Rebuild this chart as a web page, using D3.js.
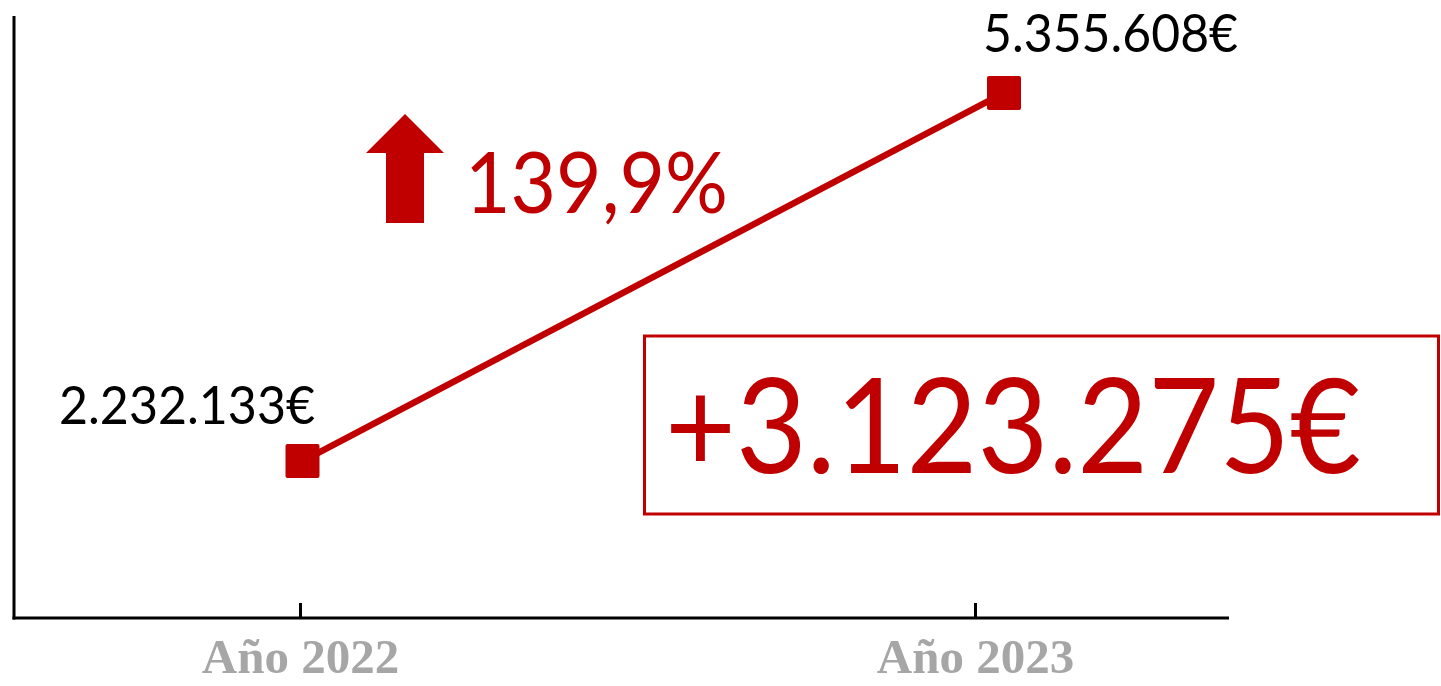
<!DOCTYPE html>
<html>
<head>
<meta charset="utf-8">
<script src="https://cdn.jsdelivr.net/npm/d3@7"></script>
<style>
  body { margin: 0; background: #fff; }
  svg { display: block; }
</style>
</head>
<body>
<div id="chart"></div>
<script>
// data
var years = ["Año 2022", "Año 2023"];
var values = [2232133, 5355608];
var valueLabels = ["2.232.133€", "5.355.608€"];
var changePct = "139,9%";
var changeAbs = "+3.123.275€";

var width = 1441,
    height = 686;

var red = "#c00000";
var font = "Lato, 'Noto Sans', sans-serif";

var svg = d3.select("#chart")
    .append("svg")
    .attr("width", width)
    .attr("height", height);

// category axis and series sit slightly apart in the original
var xAxisScale = d3.scalePoint()
    .domain(years)
    .range([300, 975]);

var xSeries = d3.scalePoint()
    .domain(years)
    .range([302.5, 1004]);

var y = d3.scaleLinear()
    .domain([900000, 6000000])
    .range([618, 17]);

// y axis line (no ticks)
svg.append("line")
    .attr("x1", 14).attr("x2", 14)
    .attr("y1", 16).attr("y2", 619.5)
    .attr("stroke", "#000")
    .attr("stroke-width", 3);

// x axis
var xAxis = svg.append("g")
    .attr("transform", "translate(0,618)")
    .call(d3.axisBottom(xAxisScale).tickSize(-15).tickSizeOuter(0).tickPadding(0));

xAxis.select(".domain")
    .attr("d", "M12.5,0H1229")
    .attr("stroke", "#000")
    .attr("stroke-width", 3);

xAxis.selectAll(".tick line")
    .attr("stroke", "#000")
    .attr("stroke-width", 3);

xAxis.selectAll(".tick text")
    .attr("y", 55)
    .attr("dy", 0)
    .attr("fill", "#a6a6a6")
    .style("font-family", "'Liberation Serif', 'Times New Roman', serif")
    .style("font-weight", "bold")
    .style("font-size", "49px");

// line
var line = d3.line()
    .x(function (d, i) { return xSeries(years[i]); })
    .y(function (d) { return y(d); });

svg.append("path")
    .datum(values)
    .attr("d", line)
    .attr("fill", "none")
    .attr("stroke", red)
    .attr("stroke-width", 6.5);

// square markers
var ms = 34;
svg.selectAll("rect.marker")
    .data(values)
    .enter()
    .append("rect")
    .attr("class", "marker")
    .attr("x", function (d, i) { return xSeries(years[i]) - ms / 2; })
    .attr("y", function (d) { return y(d) - ms / 2; })
    .attr("width", ms)
    .attr("height", ms)
    .attr("rx", 2)
    .attr("fill", red);

// value labels
var labelOffset = [[-115.5, -37], [106.5, -40.5]];
var labelWidth = [256, 255];
svg.selectAll("text.vlabel")
    .data(values)
    .enter()
    .append("text")
    .attr("class", "vlabel")
    .attr("x", function (d, i) { return xSeries(years[i]) + labelOffset[i][0]; })
    .attr("y", function (d, i) { return y(d) + labelOffset[i][1]; })
    .attr("text-anchor", "middle")
    .attr("textLength", function (d, i) { return labelWidth[i]; })
    .attr("lengthAdjust", "spacingAndGlyphs")
    .style("font-family", font)
    .style("font-size", "52px")
    .attr("fill", "#000")
    .text(function (d, i) { return valueLabels[i]; });

// up arrow + percent change
svg.append("path")
    .attr("d", "M405,114L444,153H424V223H386V153H366Z")
    .attr("fill", red);

svg.append("text")
    .attr("x", 465)
    .attr("y", 213)
    .attr("textLength", 263)
    .attr("lengthAdjust", "spacingAndGlyphs")
    .style("font-family", font)
    .style("font-size", "86px")
    .attr("fill", red)
    .text(changePct);

// absolute change box
svg.append("rect")
    .attr("x", 644.5)
    .attr("y", 336)
    .attr("width", 794)
    .attr("height", 178)
    .attr("fill", "none")
    .attr("stroke", red)
    .attr("stroke-width", 3);

svg.append("text")
    .attr("x", 665)
    .attr("y", 473)
    .attr("textLength", 696)
    .attr("lengthAdjust", "spacingAndGlyphs")
    .style("font-family", font)
    .style("font-size", "131px")
    .attr("fill", red)
    .text(changeAbs);
</script>
</body>
</html>
